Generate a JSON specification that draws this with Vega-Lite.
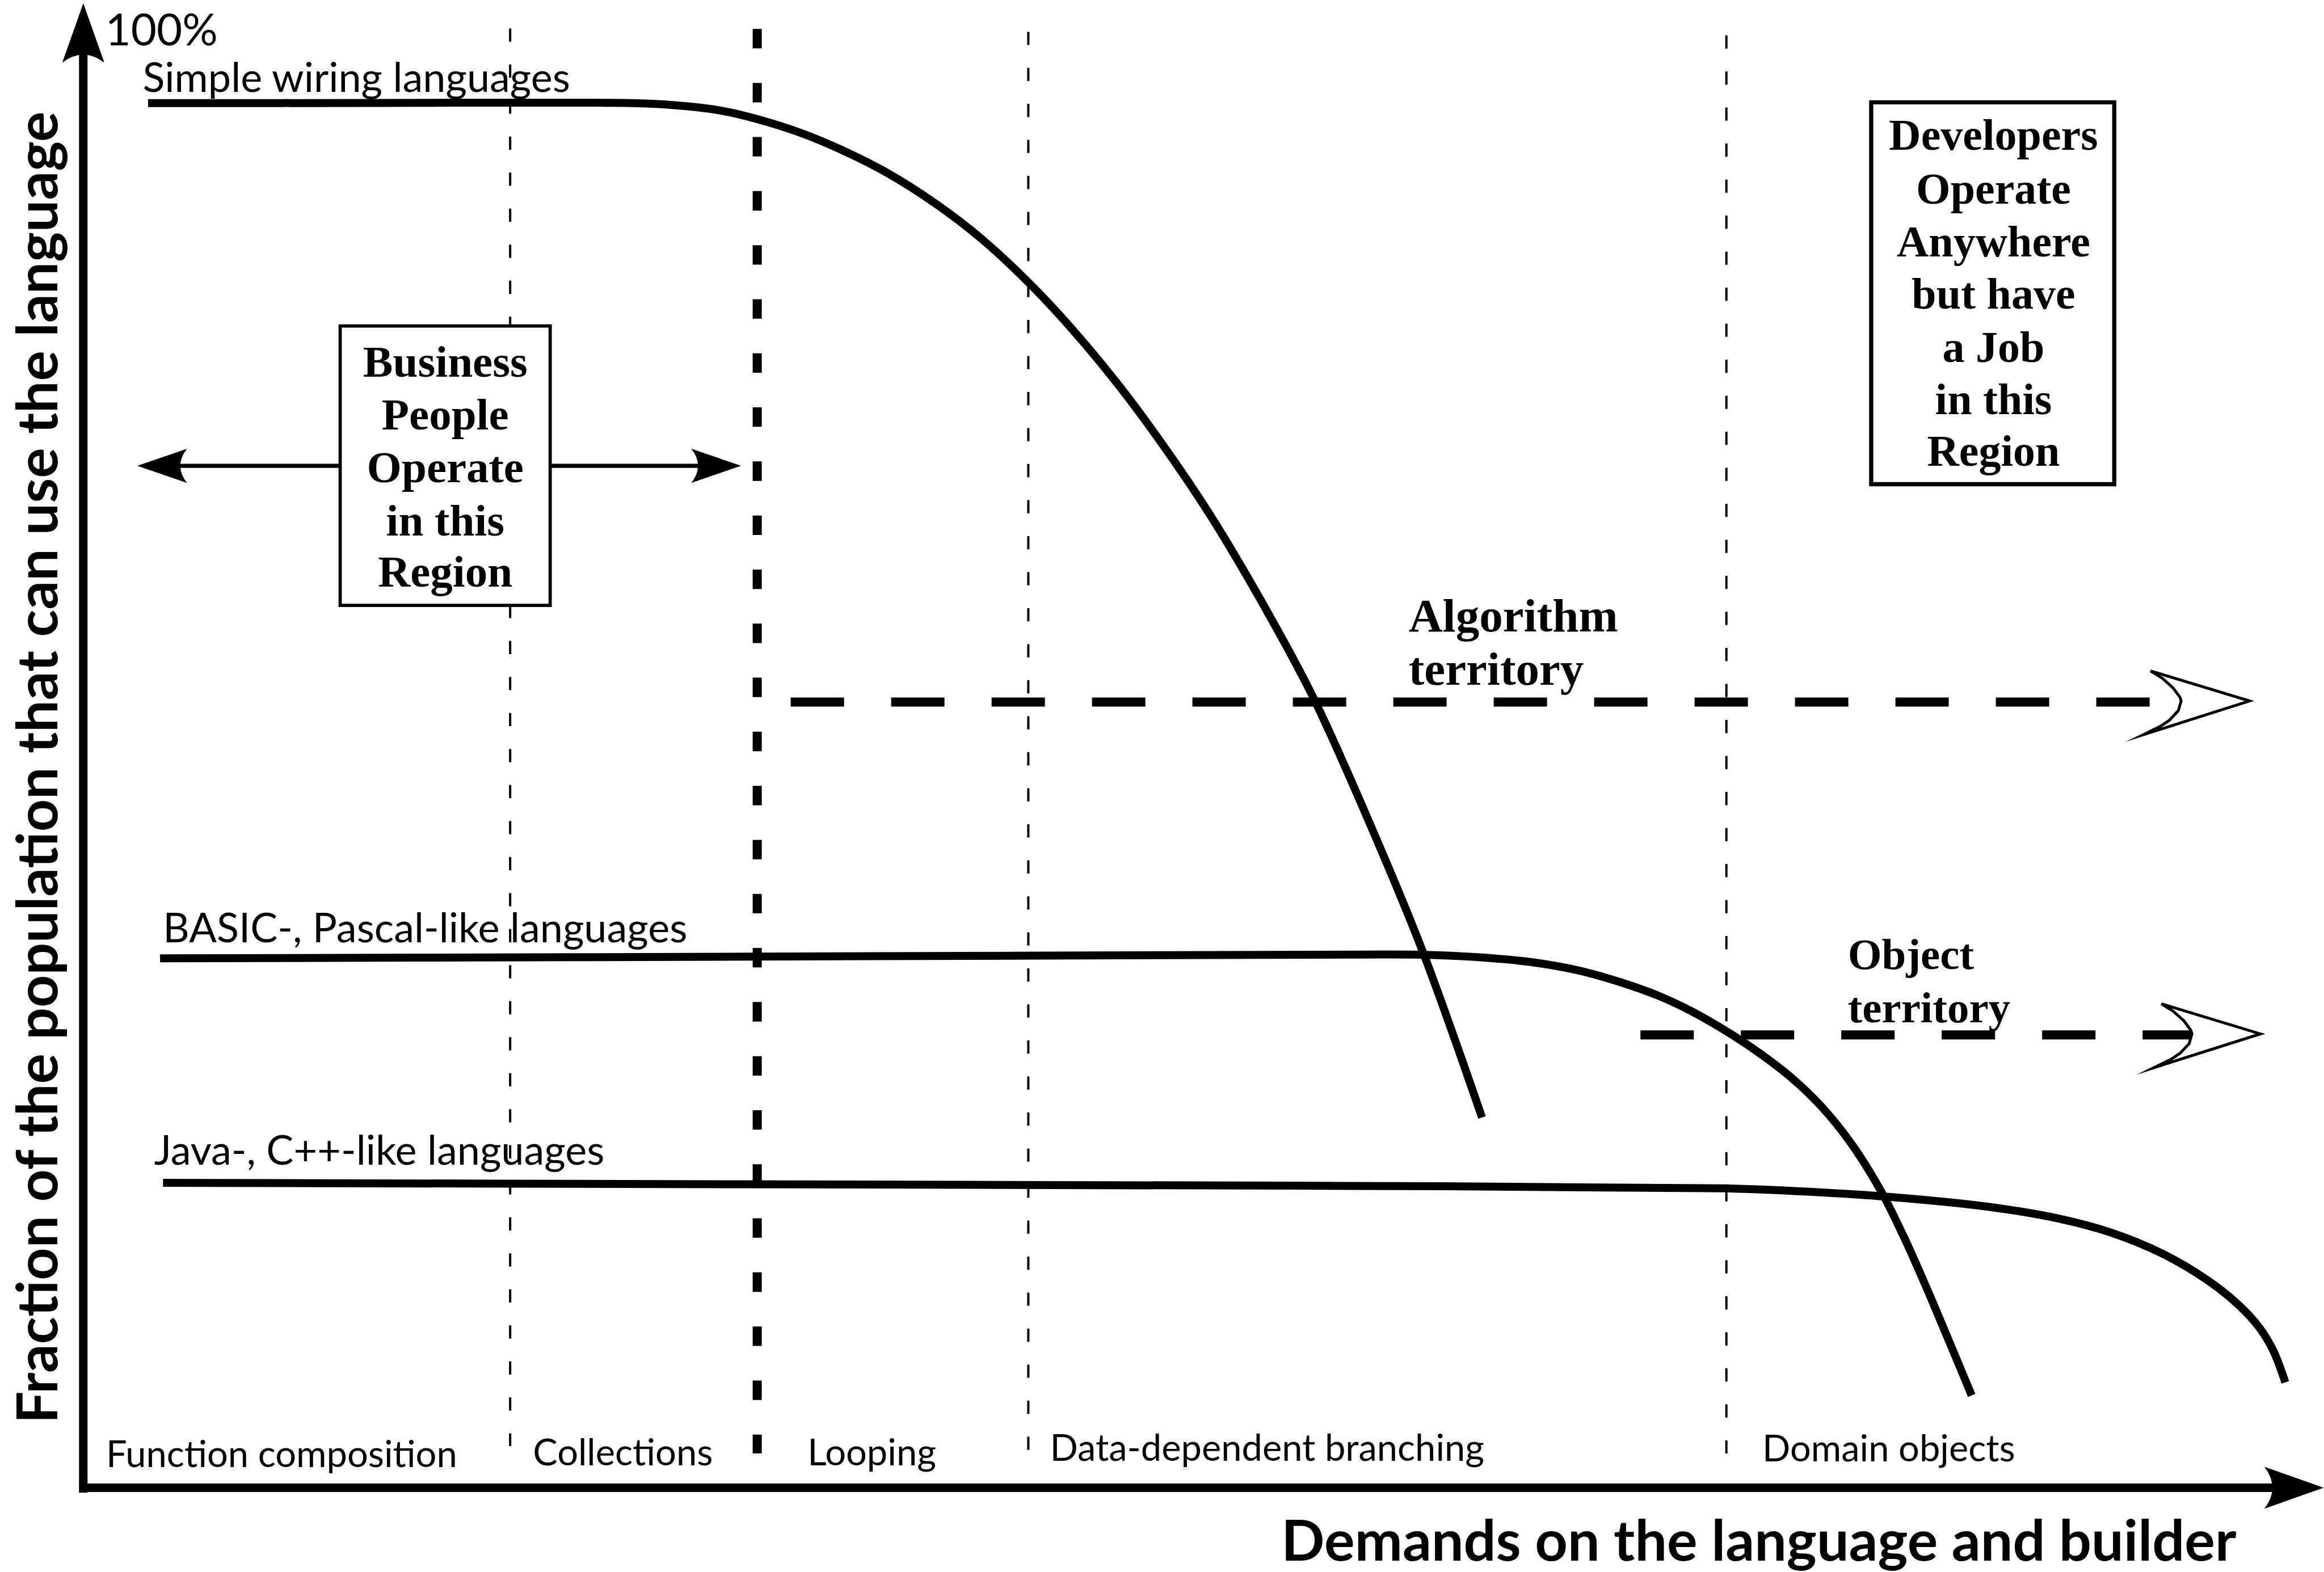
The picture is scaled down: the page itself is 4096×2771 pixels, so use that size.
{
  "$schema": "https://vega.github.io/schema/vega-lite/v6.json",
  "width": 4096,
  "height": 2771,
  "autosize": {"type": "none"},
  "padding": 0,
  "background": "white",
  "config": {"view": {"stroke": null}},
  "datasets": {
    "dividers": [
      {"x": 344.2, "y": 19.2, "y2": 976},
      {"x": 693.8, "y": 21.4, "y2": 980},
      {"x": 1164.8, "y": 23.9, "y2": 981}
    ],
    "boundary": [{"x": 510.9, "y": 19.5, "y2": 981}],
    "territories": [
      {"name": "Algorithm", "x": 533.5, "x2": 1466, "y": 473.8},
      {"name": "Object", "x": 1106.8, "x2": 1478, "y": 698.5}
    ],
    "curves": [
      {"language": "Simple wiring", "x": 99.9, "y": 69.6},
      {"language": "Simple wiring", "x": 250, "y": 69.5},
      {"language": "Simple wiring", "x": 401, "y": 69.3},
      {"language": "Simple wiring", "x": 443, "y": 70.2},
      {"language": "Simple wiring", "x": 484.9, "y": 74.4},
      {"language": "Simple wiring", "x": 510.9, "y": 80.4},
      {"language": "Simple wiring", "x": 540, "y": 89.6},
      {"language": "Simple wiring", "x": 568.6, "y": 101.5},
      {"language": "Simple wiring", "x": 600, "y": 117.5},
      {"language": "Simple wiring", "x": 631.3, "y": 137.5},
      {"language": "Simple wiring", "x": 662, "y": 161},
      {"language": "Simple wiring", "x": 694.3, "y": 191},
      {"language": "Simple wiring", "x": 725, "y": 224},
      {"language": "Simple wiring", "x": 757.1, "y": 263},
      {"language": "Simple wiring", "x": 790, "y": 308},
      {"language": "Simple wiring", "x": 819.9, "y": 353},
      {"language": "Simple wiring", "x": 861.8, "y": 425},
      {"language": "Simple wiring", "x": 886.9, "y": 472.5},
      {"language": "Simple wiring", "x": 924.5, "y": 556.5},
      {"language": "Simple wiring", "x": 960.1, "y": 642.7},
      {"language": "Simple wiring", "x": 999.9, "y": 754.2},
      {"language": "BASIC", "x": 108, "y": 646.8},
      {"language": "BASIC", "x": 400, "y": 646},
      {"language": "BASIC", "x": 700, "y": 645},
      {"language": "BASIC", "x": 911.7, "y": 644.3},
      {"language": "BASIC", "x": 960.1, "y": 644.4},
      {"language": "BASIC", "x": 1000, "y": 646.2},
      {"language": "BASIC", "x": 1032.7, "y": 649.3},
      {"language": "BASIC", "x": 1065, "y": 655},
      {"language": "BASIC", "x": 1093.2, "y": 662.9},
      {"language": "BASIC", "x": 1120, "y": 672.5},
      {"language": "BASIC", "x": 1141.6, "y": 682.7},
      {"language": "BASIC", "x": 1168.8, "y": 698.5},
      {"language": "BASIC", "x": 1188.8, "y": 712},
      {"language": "BASIC", "x": 1208.7, "y": 727.4},
      {"language": "BASIC", "x": 1228.7, "y": 746.6},
      {"language": "BASIC", "x": 1248.6, "y": 771.2},
      {"language": "BASIC", "x": 1268.6, "y": 803},
      {"language": "BASIC", "x": 1284, "y": 833.7},
      {"language": "BASIC", "x": 1299.5, "y": 868.4},
      {"language": "BASIC", "x": 1314.9, "y": 904.9},
      {"language": "BASIC", "x": 1330.3, "y": 941.8},
      {"language": "Java", "x": 110, "y": 798.3},
      {"language": "Java", "x": 500, "y": 799.3},
      {"language": "Java", "x": 911.7, "y": 800.4},
      {"language": "Java", "x": 1165.8, "y": 802.1},
      {"language": "Java", "x": 1203.5, "y": 803.5},
      {"language": "Java", "x": 1273.3, "y": 807.7},
      {"language": "Java", "x": 1343.1, "y": 814.7},
      {"language": "Java", "x": 1389.6, "y": 822.6},
      {"language": "Java", "x": 1424.5, "y": 832},
      {"language": "Java", "x": 1459.3, "y": 846.3},
      {"language": "Java", "x": 1489.6, "y": 864.2},
      {"language": "Java", "x": 1510.5, "y": 880.9},
      {"language": "Java", "x": 1524.5, "y": 896.2},
      {"language": "Java", "x": 1533.8, "y": 911.6},
      {"language": "Java", "x": 1541.9, "y": 933}
    ],
    "openHeads": [
      {"arrow": "Algorithm", "order": 1, "x": 1450.9, "y": 452.8},
      {"arrow": "Algorithm", "order": 2, "x": 1458.8, "y": 457.7},
      {"arrow": "Algorithm", "order": 3, "x": 1466.1, "y": 464.2},
      {"arrow": "Algorithm", "order": 4, "x": 1470.9, "y": 470.7},
      {"arrow": "Algorithm", "order": 5, "x": 1471.6, "y": 473.1},
      {"arrow": "Algorithm", "order": 6, "x": 1469.7, "y": 479.7},
      {"arrow": "Algorithm", "order": 7, "x": 1463.6, "y": 486.2},
      {"arrow": "Algorithm", "order": 8, "x": 1457.6, "y": 490.2},
      {"arrow": "Algorithm", "order": 9, "x": 1446, "y": 495.9},
      {"arrow": "Algorithm", "order": 10, "x": 1517.8, "y": 473.1},
      {"arrow": "Algorithm", "order": 11, "x": 1450.9, "y": 452.8},
      {"arrow": "Object", "order": 1, "x": 1458.2, "y": 677.5},
      {"arrow": "Object", "order": 2, "x": 1466.1, "y": 682.4},
      {"arrow": "Object", "order": 3, "x": 1473.4, "y": 688.9},
      {"arrow": "Object", "order": 4, "x": 1478.2, "y": 695.4},
      {"arrow": "Object", "order": 5, "x": 1478.9, "y": 697.8},
      {"arrow": "Object", "order": 6, "x": 1477, "y": 704.4},
      {"arrow": "Object", "order": 7, "x": 1470.9, "y": 710.9},
      {"arrow": "Object", "order": 8, "x": 1464.9, "y": 714.9},
      {"arrow": "Object", "order": 9, "x": 1453.3, "y": 720.6},
      {"arrow": "Object", "order": 10, "x": 1525.1, "y": 697.8},
      {"arrow": "Object", "order": 11, "x": 1458.2, "y": 677.5}
    ],
    "businessBox": [{"x": 229.5, "x2": 371.2, "y": 220, "y2": 408.6}],
    "developersBox": [{"x": 1262.5, "x2": 1426.5, "y": 69.1, "y2": 326.8}],
    "shafts": [
      {"x": 100, "x2": 229.5, "y": 314.4},
      {"x": 371.2, "x2": 490, "y": 314.4}
    ],
    "yAxis": [{"x": 56.2, "y": 1007.5, "y2": 35}],
    "xAxis": [{"x": 53.5, "x2": 1540, "y": 1004.1}],
    "xHead": [{"x": 1547.8, "y": 1004.1}],
    "yHead": [{"x": 56.2, "y": 22.2}],
    "leftHead": [{"x": 109.4, "y": 314.4}],
    "rightHead": [{"x": 483.2, "y": 314.4}],
    "percent": [{"x": 71, "y": 30.5, "label": "100%"}],
    "curveLabels": [
      {"x": 96.3, "y": 62, "label": "Simple wiring languages"},
      {"x": 110, "y": 636, "label": "BASIC-, Pascal-like languages"},
      {"x": 104, "y": 786, "label": "Java-, C++-like languages"}
    ],
    "regionLabels": [
      {"x": 71.6, "y": 990.2, "label": "Function composition"},
      {"x": 359.6, "y": 989, "label": "Collections"},
      {"x": 544.8, "y": 989, "label": "Looping"},
      {"x": 708.4, "y": 985.9, "label": "Data-dependent branching"},
      {"x": 1189, "y": 986.2, "label": "Domain objects"}
    ],
    "xTitle": [{"x": 864.5, "y": 1053.3, "label": "Demands on the language and builder"}],
    "yTitle": [{"x": 38.5, "y": 518, "label": "Fraction of the population that can use the language"}],
    "businessText": [
      {"x": 300.4, "y": 254.4, "label": "Business"},
      {"x": 300.4, "y": 290, "label": "People"},
      {"x": 300.4, "y": 325.6, "label": "Operate"},
      {"x": 300.4, "y": 361.3, "label": "in this"},
      {"x": 300.4, "y": 396, "label": "Region"}
    ],
    "developersText": [
      {"x": 1345, "y": 101.2, "label": "Developers"},
      {"x": 1345, "y": 137.5, "label": "Operate"},
      {"x": 1345, "y": 172.9, "label": "Anywhere"},
      {"x": 1345, "y": 208.2, "label": "but have"},
      {"x": 1345, "y": 244.4, "label": "a Job"},
      {"x": 1345, "y": 279.7, "label": "in this"},
      {"x": 1345, "y": 314.4, "label": "Region"}
    ],
    "algorithmText": [
      {"x": 950.4, "y": 426, "label": "Algorithm"},
      {"x": 950.4, "y": 462, "label": "territory"}
    ],
    "objectText": [
      {"x": 1246.7, "y": 654, "label": "Object"},
      {"x": 1246.7, "y": 690, "label": "territory"}
    ]
  },
  "encoding": {
    "x": {"field": "x", "type": "quantitative", "scale": {"domain": [0, 1568], "nice": false, "zero": false}, "axis": null},
    "y": {"field": "y", "type": "quantitative", "scale": {"domain": [0, 1061], "nice": false, "zero": false, "reverse": true}, "axis": null}
  },
  "layer": [
    {"data": {"name": "dividers"}, "mark": {"type": "rule", "color": "black", "strokeWidth": 4, "strokeDash": [23.3, 40.2]}, "encoding": {"y2": {"field": "y2"}}},
    {"data": {"name": "boundary"}, "mark": {"type": "rule", "color": "black", "strokeWidth": 16, "strokeDash": [34.3, 61]}, "encoding": {"y2": {"field": "y2"}}},
    {"data": {"name": "territories"}, "mark": {"type": "rule", "color": "black", "strokeWidth": 16, "strokeDash": [94, 83]}, "encoding": {"x2": {"field": "x2"}}},
    {"data": {"name": "curves"}, "mark": {"type": "line", "color": "black", "strokeWidth": 14, "interpolate": "catmull-rom"}, "encoding": {"detail": {"field": "language", "type": "nominal"}}},
    {"data": {"name": "openHeads"}, "mark": {"type": "line", "color": "black", "strokeWidth": 5, "strokeJoin": "miter", "strokeMiterLimit": 20}, "encoding": {"detail": {"field": "arrow", "type": "nominal"}, "order": {"field": "order", "type": "quantitative"}}},
    {"data": {"name": "businessBox"}, "mark": {"type": "rect", "fill": "white", "stroke": "black", "strokeWidth": 5.7}, "encoding": {"x2": {"field": "x2"}, "y2": {"field": "y2"}}},
    {"data": {"name": "developersBox"}, "mark": {"type": "rect", "fill": "white", "stroke": "black", "strokeWidth": 7.3}, "encoding": {"x2": {"field": "x2"}, "y2": {"field": "y2"}}},
    {"data": {"name": "shafts"}, "mark": {"type": "rule", "color": "black", "strokeWidth": 7.3}, "encoding": {"x2": {"field": "x2"}}},
    {"data": {"name": "yAxis"}, "mark": {"type": "rule", "color": "black", "strokeWidth": 15}, "encoding": {"y2": {"field": "y2"}}},
    {"data": {"name": "xAxis"}, "mark": {"type": "rule", "color": "black", "strokeWidth": 15}, "encoding": {"x2": {"field": "x2"}}},
    {"data": {"name": "xHead"}, "mark": {"type": "point", "shape": "M1,0L-1,-0.707Q-0.46,0,-1,0.707Z", "size": 10962, "angle": 0, "filled": true, "color": "black", "opacity": 1, "strokeWidth": 0}},
    {"data": {"name": "yHead"}, "mark": {"type": "point", "shape": "M1,0L-1,-0.707Q-0.46,0,-1,0.707Z", "size": 10962, "angle": 270, "filled": true, "color": "black", "opacity": 1, "strokeWidth": 0}},
    {"data": {"name": "leftHead"}, "mark": {"type": "point", "shape": "M1,0L-1,-0.69Q-0.46,0,-1,0.69Z", "size": 7674, "angle": 180, "filled": true, "color": "black", "opacity": 1, "strokeWidth": 0}},
    {"data": {"name": "rightHead"}, "mark": {"type": "point", "shape": "M1,0L-1,-0.69Q-0.46,0,-1,0.69Z", "size": 7674, "angle": 0, "filled": true, "color": "black", "opacity": 1, "strokeWidth": 0}},
    {"data": {"name": "percent"}, "mark": {"type": "text", "font": "Lato", "fontSize": 78, "align": "left", "baseline": "alphabetic", "color": "black"}, "encoding": {"text": {"field": "label"}}},
    {"data": {"name": "curveLabels"}, "mark": {"type": "text", "font": "Lato", "fontSize": 72, "align": "left", "baseline": "alphabetic", "color": "black"}, "encoding": {"text": {"field": "label"}}},
    {"data": {"name": "regionLabels"}, "mark": {"type": "text", "font": "Lato", "fontSize": 65, "align": "left", "baseline": "alphabetic", "color": "black"}, "encoding": {"text": {"field": "label"}}},
    {"data": {"name": "xTitle"}, "mark": {"type": "text", "font": "Lato", "fontWeight": "bold", "fontSize": 100.5, "align": "left", "baseline": "alphabetic", "color": "black"}, "encoding": {"text": {"field": "label"}}},
    {"data": {"name": "yTitle"}, "mark": {"type": "text", "font": "Lato", "fontWeight": "bold", "fontSize": 100, "align": "center", "baseline": "alphabetic", "angle": 270, "color": "black"}, "encoding": {"text": {"field": "label"}}},
    {"data": {"name": "businessText"}, "mark": {"type": "text", "font": "Liberation Serif", "fontWeight": "bold", "fontSize": 79, "align": "center", "baseline": "alphabetic", "color": "black"}, "encoding": {"text": {"field": "label"}}},
    {"data": {"name": "developersText"}, "mark": {"type": "text", "font": "Liberation Serif", "fontWeight": "bold", "fontSize": 78, "align": "center", "baseline": "alphabetic", "color": "black"}, "encoding": {"text": {"field": "label"}}},
    {"data": {"name": "algorithmText"}, "mark": {"type": "text", "font": "Liberation Serif", "fontWeight": "bold", "fontSize": 83, "align": "left", "baseline": "alphabetic", "color": "black"}, "encoding": {"text": {"field": "label"}}},
    {"data": {"name": "objectText"}, "mark": {"type": "text", "font": "Liberation Serif", "fontWeight": "bold", "fontSize": 77, "align": "left", "baseline": "alphabetic", "color": "black"}, "encoding": {"text": {"field": "label"}}}
  ]
}
